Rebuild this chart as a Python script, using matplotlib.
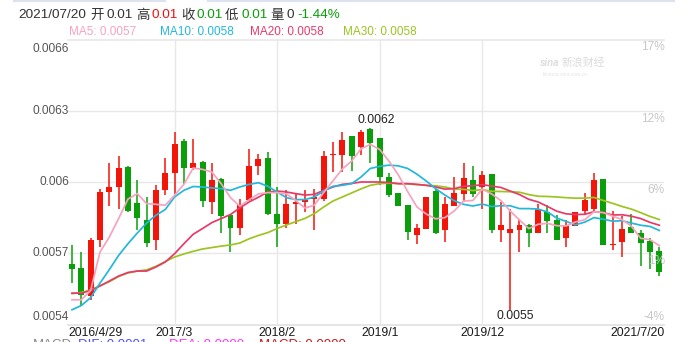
import matplotlib
matplotlib.use("Agg")
import matplotlib.pyplot as plt
import matplotlib.transforms as mtransforms
from matplotlib.lines import Line2D

plt.rcParams["font.family"] = ["Liberation Sans", "Noto Sans CJK SC", "DejaVu Sans"]

# ---------- data (monthly candles, 2016/4 .. 2021/7) ----------
opens = [0.005656, 0.005637, 0.005522, 0.005754, 0.005958, 0.005979, 0.006063, 0.005912,
         0.005839, 0.005757, 0.005968, 0.006038, 0.006173, 0.006057, 0.006085, 0.005916,
         0.006012, 0.005860, 0.005806, 0.005926, 0.006068, 0.006099, 0.005867, 0.005825,
         0.005906, 0.005916, 0.005927, 0.005927, 0.006113, 0.006113, 0.006193, 0.006148,
         0.006223, 0.006186, 0.006021, 0.005954, 0.005902, 0.005775, 0.005804, 0.005962,
         0.005796, 0.005899, 0.005951, 0.006010, 0.005979, 0.006033, 0.005796, 0.005785,
         0.005796, 0.005818, 0.005785, 0.005874, 0.005839, 0.005764, 0.005813, 0.005878,
         0.005885, 0.006012, 0.005733, 0.005747, 0.005810, 0.005785, 0.005750, 0.005708]
highs = [0.005733, 0.005705, 0.005766, 0.005969, 0.006078, 0.006110, 0.006068, 0.006007,
         0.005937, 0.005986, 0.006099, 0.006211, 0.006179, 0.006179, 0.006089, 0.006078,
         0.006017, 0.005867, 0.005927, 0.006137, 0.006120, 0.006127, 0.005977, 0.005968,
         0.005954, 0.005968, 0.005972, 0.006131, 0.006169, 0.006211, 0.006193, 0.006221,
         0.006228, 0.006186, 0.006038, 0.005954, 0.005902, 0.005825, 0.005937, 0.005972,
         0.005937, 0.006019, 0.006078, 0.006068, 0.006047, 0.006033, 0.005916, 0.005888,
         0.005846, 0.005825, 0.005909, 0.005902, 0.005860, 0.005839, 0.005874, 0.005955,
         0.006036, 0.006012, 0.005878, 0.005856, 0.005867, 0.005796, 0.005764, 0.005726]
lows = [0.005574, 0.005480, 0.005505, 0.005726, 0.005898, 0.005888, 0.005874, 0.005796,
        0.005726, 0.005715, 0.005944, 0.005951, 0.005993, 0.006050, 0.005895, 0.005867,
        0.005785, 0.005705, 0.005775, 0.005920, 0.006028, 0.005860, 0.005726, 0.005806,
        0.005825, 0.005874, 0.005796, 0.005920, 0.006042, 0.006042, 0.006047, 0.006113,
        0.006078, 0.005986, 0.005937, 0.005898, 0.005754, 0.005737, 0.005804, 0.005783,
        0.005747, 0.005899, 0.005916, 0.005937, 0.005888, 0.005785, 0.005747, 0.005462,
        0.005705, 0.005726, 0.005785, 0.005785, 0.005754, 0.005726, 0.005813, 0.005860,
        0.005878, 0.005733, 0.005715, 0.005684, 0.005785, 0.005645, 0.005635, 0.005604]
closes = [0.005633, 0.005525, 0.005754, 0.005958, 0.005979, 0.006059, 0.005878, 0.005848,
          0.005743, 0.005965, 0.006038, 0.006159, 0.006059, 0.006080, 0.005920, 0.006007,
          0.005857, 0.005806, 0.005902, 0.006066, 0.006096, 0.005867, 0.005825, 0.005906,
          0.005916, 0.005923, 0.005937, 0.006109, 0.006120, 0.006176, 0.006110, 0.006211,
          0.006166, 0.006021, 0.005944, 0.005898, 0.005789, 0.005806, 0.005937, 0.005785,
          0.005906, 0.005955, 0.006015, 0.005951, 0.006028, 0.005796, 0.005818, 0.005804,
          0.005818, 0.005785, 0.005885, 0.005836, 0.005754, 0.005813, 0.005874, 0.005926,
          0.006007, 0.005733, 0.005740, 0.005804, 0.005785, 0.005743, 0.005705, 0.005621]

ma5 = [0.005504, 0.005504, 0.005543, 0.005705, 0.005768, 0.005846, 0.005928, 0.005951,
       0.005909, 0.005906, 0.005902, 0.005944, 0.005990, 0.006059, 0.006053, 0.006042,
       0.005993, 0.005934, 0.005898, 0.005925, 0.005950, 0.005955, 0.005955, 0.005950,
       0.005922, 0.005890, 0.005903, 0.005956, 0.006005, 0.006055, 0.006088, 0.006140,
       0.006158, 0.006137, 0.006088, 0.006030, 0.005960, 0.005895, 0.005865, 0.005845,
       0.005850, 0.005878, 0.005920, 0.005922, 0.005970, 0.005950, 0.005922, 0.005878,
       0.005840, 0.005804, 0.005822, 0.005826, 0.005816, 0.005815, 0.005832, 0.005841,
       0.005875, 0.005871, 0.005856, 0.005842, 0.005814, 0.005763, 0.005757, 0.005732]
ma10 = [0.005462, 0.005480, 0.005513, 0.005574, 0.005631, 0.005691, 0.005740, 0.005785,
        0.005827, 0.005860, 0.005884, 0.005937, 0.005965, 0.005981, 0.005979, 0.005975,
        0.005972, 0.005965, 0.005979, 0.005990, 0.005997, 0.005982, 0.005958, 0.005934,
        0.005926, 0.005926, 0.005937, 0.005962, 0.005982, 0.005986, 0.005993, 0.006021,
        0.006057, 0.006066, 0.006071, 0.006068, 0.006057, 0.006033, 0.006004, 0.005972,
        0.005945, 0.005921, 0.005906, 0.005899, 0.005907, 0.005897, 0.005900, 0.005900,
        0.005888, 0.005888, 0.005886, 0.005874, 0.005848, 0.005834, 0.005820, 0.005831,
        0.005850, 0.005843, 0.005835, 0.005837, 0.005827, 0.005818, 0.005813, 0.005796]
ma20 = [0.005532, 0.005532, 0.005543, 0.005562, 0.005583, 0.005604, 0.005619, 0.005625,
        0.005625, 0.005642, 0.005663, 0.005698, 0.005740, 0.005780, 0.005804, 0.005829,
        0.005846, 0.005863, 0.005891, 0.005916, 0.005936, 0.005958, 0.005962, 0.005958,
        0.005951, 0.005945, 0.005948, 0.005965, 0.005979, 0.005990, 0.005994, 0.006000,
        0.006000, 0.006000, 0.005998, 0.005993, 0.005993, 0.005990, 0.005986, 0.005979,
        0.005970, 0.005972, 0.005982, 0.005984, 0.005989, 0.005983, 0.005977, 0.005962,
        0.005947, 0.005927, 0.005916, 0.005897, 0.005877, 0.005866, 0.005863, 0.005864,
        0.005875, 0.005871, 0.005861, 0.005862, 0.005856, 0.005846, 0.005830, 0.005818]
ma30 = [0.005530, 0.005535, 0.005545, 0.005563, 0.005580, 0.005602, 0.005617, 0.005625,
        0.005630, 0.005645, 0.005665, 0.005684, 0.005697, 0.005708, 0.005718, 0.005724,
        0.005730, 0.005735, 0.005743, 0.005761, 0.005775, 0.005787, 0.005804, 0.005819,
        0.005833, 0.005847, 0.005867, 0.005895, 0.005920, 0.005937, 0.005954, 0.005971,
        0.005986, 0.005993, 0.005995, 0.005993, 0.005992, 0.005989, 0.005986, 0.005984,
        0.005979, 0.005970, 0.005969, 0.005964, 0.005968, 0.005961, 0.005960, 0.005959,
        0.005957, 0.005947, 0.005940, 0.005939, 0.005937, 0.005934, 0.005932, 0.005932,
        0.005935, 0.005922, 0.005910, 0.005897, 0.005886, 0.005871, 0.005855, 0.005842]

x_tick_pos = [0, 11, 22, 33, 44, 63]
x_tick_labels = ["2016/4/29", "2017/3", "2018/2", "2019/1", "2019/12", "2021/7/20"]
y_ticks = [0.0054, 0.0057, 0.006, 0.0063, 0.0066]
y_tick_labels = ["0.0054", "0.0057", "0.006", "0.0063", "0.0066"]
pct_labels = ["-4%", "1%", "6%", "12%", "17%"]

# colours
RED = "#f2150a"
GREEN = "#0a9f0a"
C_MA5 = "#f7a3bf"
C_MA10 = "#22b8dc"
C_MA20 = "#e83a6a"
C_MA30 = "#9cc422"
GRID = "#e8e8e8"

W, H = 699, 342


def fx(px):
    return px / W


def fy(py):
    return 1 - py / H


fig = plt.figure(figsize=(W / 100, H / 100), dpi=100)
fig.patch.set_facecolor("white")
ax = fig.add_axes([fx(68), fy(324.5), fx(664) - fx(68), fy(39.5) - fy(324.5)])
ax.set_xlim(-0.43, 63.5)
ax.set_ylim(y_ticks[0], y_ticks[-1])
for s in ax.spines.values():
    s.set_visible(False)
ax.set_xticks([])
ax.set_yticks([])

# grid
for v in y_ticks[1:-1]:
    ax.axhline(v, color=GRID, lw=1, zorder=0)
ax.axhline(y_ticks[-1], color=GRID, lw=1.2, zorder=0, clip_on=False)
ax.axhline(y_ticks[0], color="#e0e0e0", lw=1.2, zorder=0, clip_on=False)
for v in x_tick_pos[1:-1]:
    ax.axvline(v, color=GRID, lw=1, zorder=0)

# candles
idx = list(range(len(closes)))
cols = [RED if c >= o else GREEN for o, c in zip(opens, closes)]
ax.vlines(idx, lows, highs, colors=cols, lw=1.1, zorder=2)
bottoms = [min(o, c) for o, c in zip(opens, closes)]
heights = [max(abs(c - o), 0.000006) for o, c in zip(opens, closes)]
ax.bar(idx, heights, bottom=bottoms, width=0.64, color=cols, lw=0, zorder=3)

# moving averages
ax.plot(idx, ma30, color=C_MA30, lw=1.25, zorder=4)
ax.plot(idx, ma20, color=C_MA20, lw=1.25, zorder=4)
ax.plot(idx, ma10, color=C_MA10, lw=1.25, zorder=4)
ax.plot(idx, ma5, color=C_MA5, lw=1.25, zorder=4)

# max / min labels
imax = highs.index(max(highs))
imin = lows.index(min(lows))
ax.annotate(f"{max(highs):.4f}", (imax, highs[imax]), xytext=(4.5, 1), textcoords="offset points",
            ha="center", va="bottom", fontsize=8.7, color="#222222")
ax.annotate(f"{min(lows):.4f}", (imin, lows[imin]), xytext=(4, 0), textcoords="offset points",
            ha="center", va="top", fontsize=8.7, color="#222222")

# y labels left (price) and right (percent)
ytrans = mtransforms.blended_transform_factory(fig.transFigure, ax.transData)
for i, (v, lab, pl) in enumerate(zip(y_ticks, y_tick_labels, pct_labels)):
    if i == 0:
        va_l, off_l = "bottom", 2
    elif i == len(y_ticks) - 1:
        va_l, off_l = "top", -3
    else:
        va_l, off_l = "center", 0
    t = mtransforms.offset_copy(ytrans, fig=fig, x=0, y=off_l, units="dots")
    fig.text(fx(69), v, lab, transform=t, ha="right", va=va_l, fontsize=8.6, color="#555555")
    if i == 0:
        va_r, off_r = "bottom", 2
    else:
        va_r, off_r = "top", -2
    t2 = mtransforms.offset_copy(ytrans, fig=fig, x=0, y=off_r, units="dots")
    fig.text(fx(665), v, pl, transform=t2, ha="right", va=va_r, fontsize=8.6, color="#c8c8c8")

# x labels
xtrans = mtransforms.blended_transform_factory(ax.transData, fig.transFigure)
for p, lab in zip(x_tick_pos, x_tick_labels):
    if p == x_tick_pos[0]:
        fig.text(fx(68), fy(333), lab, ha="left", va="center", fontsize=8.8, color="#1a1a1a")
    elif p == x_tick_pos[-1]:
        fig.text(fx(665), fy(333), lab, ha="right", va="center", fontsize=8.8, color="#1a1a1a")
    else:
        fig.text(p, fy(333), lab, transform=xtrans, ha="center", va="center",
                 fontsize=8.8, color="#1a1a1a")

# header line
DARK = "#333333"
header = [
    (18.7, "2021/07/20", DARK), (90.5, "开", DARK), (106.5, "0.01", DARK),
    (136, "高", DARK), (151.5, "0.01", "#f01010"), (181, "收", DARK),
    (196.5, "0.01", "#0a9f0a"), (225, "低", DARK), (241, "0.01", "#0a9f0a"),
    (270, "量", DARK), (286.5, "0", DARK), (297, "-1.44%", "#0a9f0a"),
]
for x, s, c in header:
    fig.text(fx(x), fy(15.5), s, ha="left", va="center", fontsize=9.7, color=c)

ma_legend = [(69, "MA5: 0.0057", C_MA5), (160, "MA10: 0.0058", C_MA10),
             (250, "MA20: 0.0058", C_MA20), (343, "MA30: 0.0058", C_MA30)]
for x, s, c in ma_legend:
    fig.text(fx(x), fy(31.7), s, ha="left", va="center", fontsize=8.5, color=c)

# tab border lines at the very top
fig.add_artist(Line2D([fx(14), fx(165)], [fy(1), fy(1)], color="#dde3ee", lw=1.5))
fig.add_artist(Line2D([fx(208), fx(674)], [fy(1), fy(1)], color="#dde3ee", lw=1.5))

# watermark
fig.text(fx(540), fy(63), "sina", ha="left", va="center", fontsize=7, color="#dcdcdc",
         style="italic", fontweight="bold")
fig.text(fx(562), fy(63), "新浪财经", ha="left", va="center", fontsize=7.8, color="#dcdcdc",
         style="italic")
fig.text(fx(543), fy(75), "finance.sina.com.cn", ha="left", va="center", fontsize=3.6,
         color="#e4e4e4")

# MACD caption, cut off at the bottom edge
macd = [(33, "MACD", "#888888"), (78, "DIF: 0.0001", "#4d4dff"),
        (169, "DEA: 0.0000", "#ff33ff"), (259, "MACD: 0.0000", "#c41a1a")]
for x, s, c in macd:
    fig.text(fx(x), fy(338.8), s, ha="left", va="top", fontsize=9.5, color=c)

fig.savefig("out.png", dpi=100, facecolor="white")
